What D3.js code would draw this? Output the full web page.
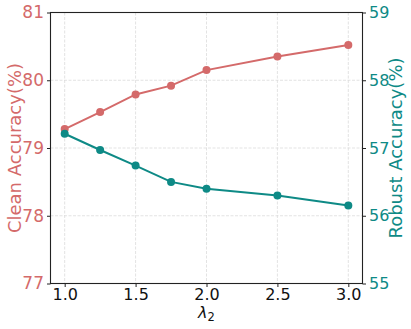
<!DOCTYPE html>
<html><head><meta charset="utf-8">
<script src="https://cdn.jsdelivr.net/npm/d3@7"></script>
<style>body{margin:0;background:#fff}svg{display:block;font-family:"DejaVu Sans",sans-serif}</style>
</head><body><svg id="c" width="411" height="329"></svg>
<script>
const lambdas = [1.0, 1.25, 1.5, 1.75, 2.0, 2.5, 3.0];
const cleanAcc = [79.28, 79.53, 79.79, 79.92, 80.15, 80.35, 80.52];
const robustAcc = [57.21, 56.97, 56.74, 56.50, 56.40, 56.30, 56.15];
const xTicks = [1.0, 1.5, 2.0, 2.5, 3.0];
const leftTicks = [77, 78, 79, 80, 81];
const rightTicks = [55, 56, 57, 58, 59];

const redC = "#d46a6a", tealC = "#0e8a86";
const svg = d3.select("#c");
const L = 50.5, R = 362.5, T = 12.5, B = 283.5;
const x = d3.scaleLinear().domain([0.9, 3.1]).range([L, R]);
const yL = d3.scaleLinear().domain([77, 81]).range([B, T]);
const yR = d3.scaleLinear().domain([55, 59]).range([B, T]);

// grid
const g = svg.append("g");
g.selectAll("line.gx").data(xTicks).join("line")
  .attr("x1", d => x(d)).attr("x2", d => x(d)).attr("y1", T).attr("y2", B)
  .attr("stroke", "#dcdcdc").attr("stroke-width", 0.8).attr("stroke-dasharray", "3,1.5");
g.selectAll("line.gy").data(leftTicks).join("line")
  .attr("y1", d => yL(d)).attr("y2", d => yL(d)).attr("x1", L).attr("x2", R)
  .attr("stroke", "#dcdcdc").attr("stroke-width", 0.8).attr("stroke-dasharray", "3,1.5");

// axes
const ax = svg.append("g").attr("transform", `translate(0,${B})`)
  .call(d3.axisBottom(x).tickValues(xTicks).tickFormat(d3.format(".1f")).tickSize(3.5).tickPadding(2));
const ayl = svg.append("g").attr("transform", `translate(${L},0)`)
  .call(d3.axisLeft(yL).tickValues(leftTicks).tickFormat(d3.format("d")).tickSize(3.5).tickPadding(3));
const ayr = svg.append("g").attr("transform", `translate(${R},0)`)
  .call(d3.axisRight(yR).tickValues(rightTicks).tickFormat(d3.format("d")).tickSize(3.5).tickPadding(3));
[ax, ayl, ayr].forEach(a => {
  a.select(".domain").remove();
  a.selectAll("text").attr("font-size", 16).attr("font-family", "DejaVu Sans");
  a.selectAll("line").attr("stroke", "#222");
});
ayl.selectAll("text").attr("font-size", 17);
ax.selectAll("text").attr("fill", "#111");
ayl.selectAll("text").attr("fill", redC);
ayr.selectAll("text").attr("fill", tealC);

// frame
svg.append("rect").attr("x", L).attr("y", T).attr("width", R - L).attr("height", B - T)
  .attr("fill", "none").attr("stroke", "#222").attr("stroke-width", 1.1);

// lines
const lineC = d3.line().x((d, i) => x(lambdas[i])).y(d => yL(d));
const lineR = d3.line().x((d, i) => x(lambdas[i])).y(d => yR(d));
svg.append("path").datum(cleanAcc).attr("d", lineC).attr("fill", "none").attr("stroke", redC).attr("stroke-width", 2);
svg.selectAll("circle.c").data(cleanAcc).join("circle")
  .attr("cx", (d, i) => x(lambdas[i])).attr("cy", d => yL(d)).attr("r", 4).attr("fill", redC);
svg.append("path").datum(robustAcc).attr("d", lineR).attr("fill", "none").attr("stroke", tealC).attr("stroke-width", 2);
svg.selectAll("circle.r").data(robustAcc).join("circle")
  .attr("cx", (d, i) => x(lambdas[i])).attr("cy", d => yR(d)).attr("r", 4).attr("fill", tealC);

// labels
svg.append("text").attr("transform", `translate(21,${(T + B) / 2}) rotate(-90)`)
  .attr("text-anchor", "middle").attr("font-size", 18).attr("fill", redC).text("Clean Accuracy(%)");
svg.append("text").attr("transform", `translate(402,${(T + B) / 2}) rotate(-90)`)
  .attr("text-anchor", "middle").attr("font-size", 18).attr("fill", tealC).text("Robust Accuracy(%)");
const xl = svg.append("text").attr("x", (L + R) / 2).attr("y", 318).attr("text-anchor", "middle")
  .attr("font-size", 16).attr("fill", "#111");
xl.append("tspan").attr("font-style", "italic").text("λ");
xl.append("tspan").attr("font-size", 11.5).attr("dy", 3).text("2");
</script></body></html>
